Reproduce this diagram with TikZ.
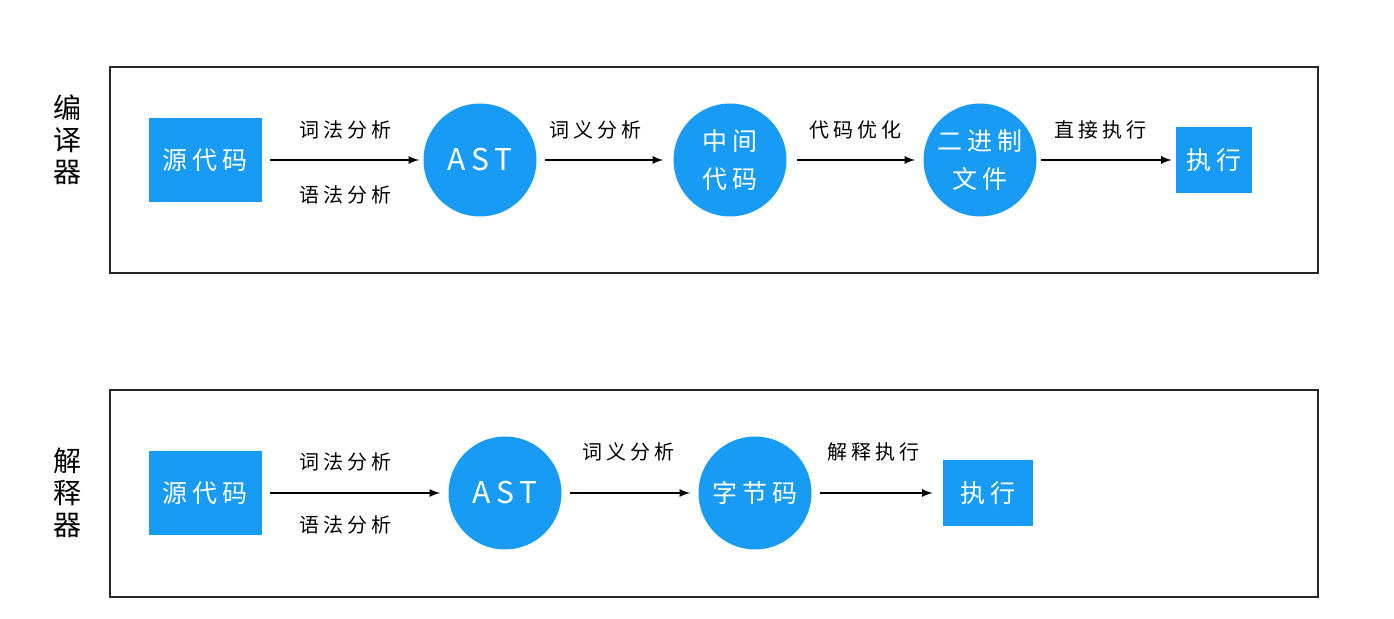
\documentclass[tikz,border=0pt]{standalone}
\usepackage{fontspec}
\setmainfont{Noto Sans CJK SC}
\newfontfamily\spaced[LetterSpace=20]{Noto Sans CJK SC}
\usepackage{xcolor}
\usetikzlibrary{arrows}
\definecolor{nodeblue}{RGB}{24,155,245}

\begin{document}
\begin{tikzpicture}[x = 0.5pt, y = -0.5pt,
	    box/.style = {fill = nodeblue, text = white, font = \spaced\fontsize{12.5}{14}\selectfont, inner sep = 0pt},
	    ball/.style = {circle, fill = nodeblue, text = white, minimum size = 56.5pt, inner sep = 0pt, align = center, font = \spaced\fontsize{12.5}{19}\selectfont},
	    frame/.style = {draw = black!85, line width = 1pt},
	    flow/.style = {-latex, line width = 0.8pt},
	    lbl/.style = {font = \spaced\fontsize{10}{12}\selectfont},
	    side/.style = {font = \fontsize{14}{16}\selectfont, align = center}]
	    \useasboundingbox (0,0) rectangle (1394,619);
	    % compiler
	    \draw[frame] (110,67) rectangle (1318,273);
	    \node[side] (comp) at (68,140) {编\\译\\器};
	    \node[box, minimum width = 56.5pt, minimum height = 42pt] (src1) at (205,160) {源代码};
	    \node[ball, font = \spaced\fontsize{15}{18}\selectfont] (ast1) at (480,160) {AST};
	    \node[ball] (mid) at (730,160) {中间\\代码};
	    \node[ball] (bin) at (980,160) {二进制\\文件};
	    \node[box, minimum width = 38pt, minimum height = 33pt] (run1) at (1214,160) {执行};
	    \draw[flow] ([xshift = 4pt]src1.east) -- ([xshift = -2pt]ast1.west);
	    \draw[flow] ([xshift = 4pt]ast1.east) -- ([xshift = -5pt]mid.west);
	    \draw[flow] ([xshift = 5pt]mid.east) -- ([xshift = -4pt]bin.west);
	    \draw[flow] ([xshift = 2pt]bin.east) -- ([xshift = -2pt]run1.west);
	    \node[lbl] (lex1) at (345,130) {词法分析};
	    \node[lbl] (syn1) at (345,195) {语法分析};
	    \node[lbl] (sem1) at (595,130) {词义分析};
	    \node[lbl] (opt) at (855,130) {代码优化};
	    \node[lbl] (direct) at (1100,130) {直接执行};
	    % interpreter
	    \draw[frame] (110,390) rectangle (1318,597);
	    \node[side] (interp) at (68,493) {解\\释\\器};
	    \node[box, minimum width = 56.5pt, minimum height = 42pt] (src2) at (205,493) {源代码};
	    \node[ball, font = \spaced\fontsize{15}{18}\selectfont] (ast2) at (505,493) {AST};
	    \node[ball] (byte) at (755,493) {字节码};
	    \node[box, minimum width = 45pt, minimum height = 33pt] (run2) at (988,493) {执行};
	    \draw[flow] ([xshift = 4pt]src2.east) -- ([xshift = -4pt]ast2.west);
	    \draw[flow] ([xshift = 4pt]ast2.east) -- ([xshift = -4pt]byte.west);
	    \draw[flow] ([xshift = 4pt]byte.east) -- ([xshift = -5pt]run2.west);
	    \node[lbl] (lex2) at (345,462) {词法分析};
	    \node[lbl] (syn2) at (345,525) {语法分析};
	    \node[lbl] (sem2) at (628,452) {词义分析};
	    \node[lbl] (exec) at (873,452) {解释执行};
\end{tikzpicture}
\end{document}
